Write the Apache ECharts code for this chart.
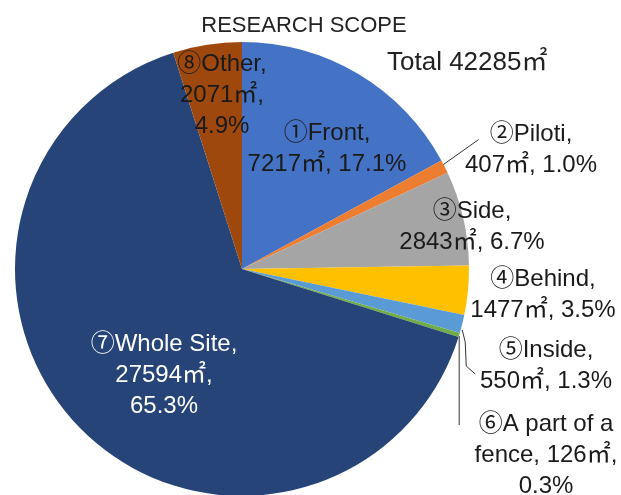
<!DOCTYPE html>
<html>
<head>
<meta charset="utf-8">
<style>
  html, body { margin: 0; padding: 0; background: #ffffff; }
  #chart { width: 621px; height: 495px; }
</style>
<script src="https://cdn.jsdelivr.net/npm/echarts@6/dist/echarts.min.js"></script>
</head>
<body>
<div id="chart"></div>
<script>
// Research scope: area of each surveyed zone (m²)
const markers    = ['①', '②', '③', '④', '⑤', '⑥', '⑦', '⑧'];
const categories = ['Front', 'Piloti', 'Side', 'Behind', 'Inside', 'A part of a fence', 'Whole Site', 'Other'];
const areas      = [7217, 407, 2843, 1477, 550, 126, 27594, 2071];
const colors     = ['#4472C4', '#ED7D31', '#A5A5A5', '#FFC000', '#5B9BD5', '#70AD47', '#264478', '#9E480E'];
const titleText  = 'RESEARCH SCOPE';

const total = areas.reduce((s, v) => s + v, 0);
const FONT = "'Liberation Sans', 'Noto Sans CJK JP', sans-serif";

// label block centres and line breaking for each slice
const labelCentre = [
  [327, 149], [531, 150], [472, 227], [543, 295],
  [546, 366], [546, 455], [164, 375], [222, 95]
];
const outsideSlices = [1, 4, 5];

function labelText(i) {
  const name = markers[i] + categories[i];
  const area = areas[i] + '㎡';
  const pct = (areas[i] / total * 100).toFixed(1) + '%';
  if (i === 5) return markers[i] + 'A part of a\nfence, ' + area + ',\n' + pct;
  if (i === 6 || i === 7) return name + ',\n' + area + ',\n' + pct;
  return name + ',\n' + area + ', ' + pct;
}

const seriesData = categories.map((c, i) => {
  const outside = outsideSlices.indexOf(i) >= 0;
  return {
    name: c,
    value: areas[i],
    itemStyle: { color: colors[i] },
    label: {
      position: outside ? 'outside' : 'inside',
      color: i === 6 ? '#ffffff' : '#1a1a1a'
    },
    labelLine: { show: outside }
  };
});

const chart = echarts.init(document.getElementById('chart'), null, { renderer: 'canvas' });

chart.setOption({
  animation: false,
  backgroundColor: '#ffffff',
  title: {
    text: titleText,
    left: 299,
    top: 10,
    textAlign: 'center',
    textStyle: { fontFamily: FONT, fontSize: 22, fontWeight: 'normal', color: '#222222' }
  },
  graphic: [{
    type: 'text',
    left: 387,
    top: 50,
    style: {
      text: 'Total ' + total + '㎡',
      font: '26px ' + FONT,
      fill: '#222222'
    }
  }],
  series: [{
    type: 'pie',
    center: [242, 269],
    radius: 227,
    startAngle: 90,
    clockwise: true,
    avoidLabelOverlap: false,
    silent: true,
    itemStyle: { borderWidth: 0 },
    label: {
      show: true,
      formatter: p => labelText(p.dataIndex),
      fontFamily: FONT,
      fontSize: 24,
      lineHeight: 31,
      align: 'center'
    },
    labelLine: {
      show: false,
      lineStyle: { color: '#333333', width: 1 }
    },
    labelLayout: function (params) {
      const i = params.dataIndex;
      const c = labelCentre[i];
      const out = { x: c[0], y: c[1], align: 'center', verticalAlign: 'middle' };
      const pts = params.labelLinePoints;
      if (pts && pts.length) {
        const s = pts[0];
        if (i === 1) {
          out.labelLinePoints = [[s[0] - 4, s[1]], [s[0] + 34, s[1] - 27]];
        } else if (i === 4) {
          out.labelLinePoints = [[s[0], s[1] + 6], [s[0] + 3, s[1] + 18], [s[0] + 4, s[1] + 42], [s[0] + 13, s[1] + 50]];
        } else if (i === 5) {
          out.labelLinePoints = [[s[0], s[1] + 1], [s[0], s[1] + 90]];
        }
      }
      return out;
    },
    data: seriesData
  }]
});
</script>
</body>
</html>
